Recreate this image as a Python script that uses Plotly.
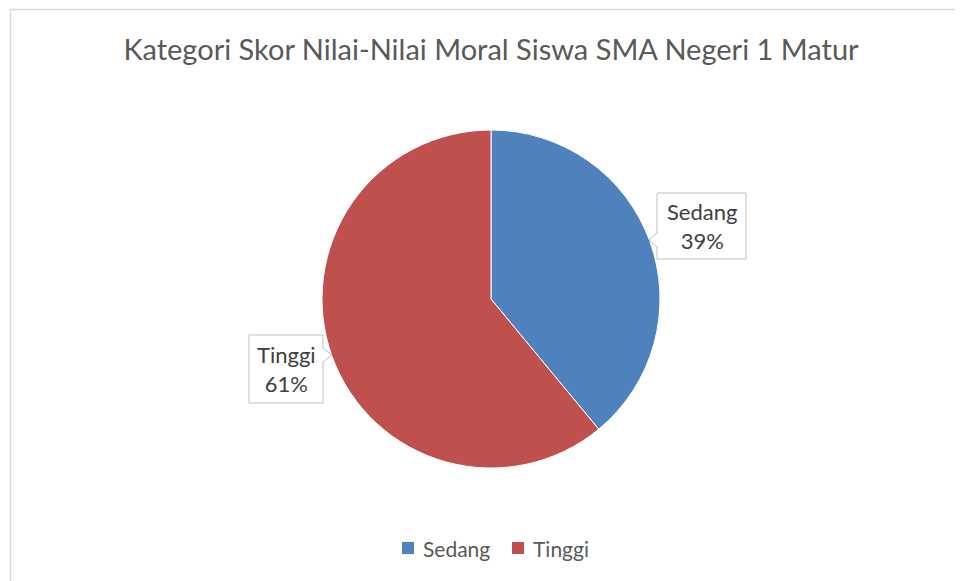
import plotly.graph_objects as go

categories = ["Sedang", "Tinggi"]
values = [39, 61]
colors = ["#4F81BD", "#C0504D"]
title_text = "Kategori Skor Nilai-Nilai Moral Siswa SMA Negeri 1 Matur"

W, H = 963, 581
OFF = 8  # page body margin
FW, FH = W, H
FONT = "Lato"
GRAY = "#595959"

cx, cy, r = 491 - OFF, 299 - OFF, 169

fig = go.Figure()
fig.add_trace(go.Pie(
    labels=categories, values=values, sort=False, direction="clockwise",
    rotation=0, marker=dict(colors=colors, line=dict(color="white", width=1)),
    textinfo="none", hoverinfo="label+percent", showlegend=False,
    domain=dict(x=[(cx - r) / FW, (cx + r) / FW], y=[(FH - cy - r) / FH, (FH - cy + r) / FH]),
))

def P(pts):
    return "M " + " L ".join(f"{x - OFF} {y - OFF}" for x, y in pts) + " Z"

callouts = [
    dict(path=P([(657, 193), (746, 193), (746, 259), (657, 259), (657, 247), (649, 240), (657, 233)]),
         tx=701.5 - OFF, ty=226 - OFF),
    dict(path=P([(249, 335), (323, 335), (323, 348), (332, 355), (323, 362), (323, 403), (249, 403)]),
         tx=286 - OFF, ty=369 - OFF),
]
total = sum(values)
for c, cat, v in zip(callouts, categories, values):
    fig.add_shape(type="path", path=c["path"], xref="x", yref="y",
                  line=dict(color="#bfbfbf", width=1), fillcolor="white", layer="above")
    fig.add_annotation(x=c["tx"], y=c["ty"], xref="x", yref="y", showarrow=False,
                       text=f"{cat}<br>{round(v / total * 100)}%",
                       font=dict(family=FONT, size=22, color="#404040"))

# legend (drawn manually to match square size and spacing)
leg_x = [402 - OFF, 512 - OFF]
leg_y = 548 - OFF
for lx, cat, col in zip(leg_x, categories, colors):
    fig.add_shape(type="rect", xref="x", yref="y", x0=lx, x1=lx + 12, y0=leg_y - 6, y1=leg_y + 6,
                  fillcolor=col, line=dict(width=0))
    fig.add_annotation(x=lx + 19, y=leg_y, xref="x", yref="y", showarrow=False, xanchor="left",
                       text=cat, font=dict(family=FONT, size=21, color=GRAY))

# chart border (right and bottom edges fall outside the visible window)
fig.add_shape(type="rect", xref="x", yref="y", x0=10.5 - OFF, x1=FW + 5, y0=9.5 - OFF, y1=FH + 5,
              line=dict(color="#d9d9d9", width=1.5), layer="below")

fig.update_layout(
    width=FW, height=FH, margin=dict(l=0, r=0, t=0, b=0),
    paper_bgcolor="white", plot_bgcolor="rgba(0,0,0,0)",
    title=dict(text=title_text, x=(491 - OFF) / FW, xanchor="center", y=1 - (50 - OFF) / FH,
               yanchor="middle", font=dict(family=FONT, size=29, color=GRAY)),
    xaxis=dict(range=[0, FW], visible=False, fixedrange=True),
    yaxis=dict(range=[FH, 0], visible=False, fixedrange=True),
    showlegend=False,
)

fig.write_html("out.html")
